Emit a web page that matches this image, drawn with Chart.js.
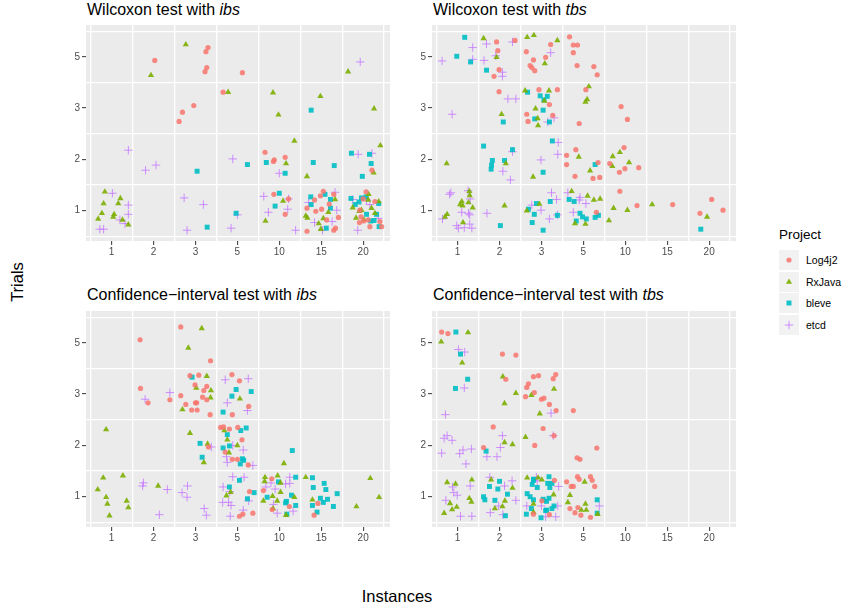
<!DOCTYPE html>
<html>
<head>
<meta charset="utf-8">
<script src="https://cdn.jsdelivr.net/npm/chart.js@4.4.0/dist/chart.umd.min.js"></script>
<style>
    body { margin: 0; background: #fff; font-family: "Liberation Sans", Arial, sans-serif; }
    #page { position: relative; width: 843px; height: 609px; overflow: hidden; }
    .panel { position: absolute; }
    .title { position: absolute; font-size: 16px; line-height: 1; color: #000; white-space: nowrap; }
    .axisTitle { position: absolute; font-size: 16.5px; line-height: 1; color: #000; white-space: nowrap; }
    #legendTitle { position: absolute; left: 779px; top: 228px; font-size: 13.5px; line-height: 1; }
    .key { position: absolute; left: 779px; width: 20px; height: 20px; background: #f2f2f2; }
    .keyLabel { position: absolute; left: 806px; font-size: 10.5px; line-height: 20px; }
</style>
</head>
<body>
<div id="page">
    <div class="title" style="left:87px;top:1.5px">Wilcoxon test with <i>ibs</i></div>
    <div class="title" style="left:433px;top:1.5px">Wilcoxon test with <i>tbs</i></div>
    <div class="title" style="left:87px;top:286.5px">Confidence−interval test with <i>ibs</i></div>
    <div class="title" style="left:433px;top:286.5px">Confidence−interval test with <i>tbs</i></div>

    <div class="panel" style="left:56px;top:17px"><canvas id="wilcoxonIbs" width="342" height="244"></canvas></div>
    <div class="panel" style="left:402px;top:17px"><canvas id="wilcoxonTbs" width="342" height="244"></canvas></div>
    <div class="panel" style="left:56px;top:303px"><canvas id="ciIbs" width="342" height="244"></canvas></div>
    <div class="panel" style="left:402px;top:303px"><canvas id="ciTbs" width="342" height="244"></canvas></div>

    <div class="axisTitle" style="left:17px;top:282px;transform:translate(-50%,-50%) rotate(-90deg)">Trials</div>
    <div class="axisTitle" style="left:397px;top:588px;transform:translateX(-50%)">Instances</div>

    <div id="legendTitle">Project</div>
    <div id="legend"></div>
</div>

<script>
// axis categories (points are jittered around their category index)
const instanceLabels = ['1', '2', '3', '5', '10', '15', '20'];
const trialLabels = ['1', '2', '3', '5'];
const projects = ['Log4j2', 'RxJava', 'bleve', 'etcd'];

// [instance index, trials index]
const wilcoxonIbsLog4j2 = [[2.03,3.93],[3.30,4.18],[3.25,4.10],[3.27,3.79],[3.23,3.71],[4.12,3.69],[3.66,3.31],[2.96,3.05],[2.69,2.92],[2.61,2.74],[4.66,2.14],[4.86,1.96],[4.88,1.99],[5.14,2.04],[4.87,1.32],[5.14,0.93],[5.22,1.23],[5.66,0.60],[5.66,1.05],[5.84,1.21],[5.87,0.99],[6.01,1.03],[6.05,1.38],[5.98,1.29],[6.19,1.13],[6.30,1.32],[6.41,0.87],[6.34,0.66],[6.30,0.62],[6.13,0.82],[7.07,1.37],[7.00,1.23],[6.95,0.88],[6.91,0.77],[7.01,0.80],[7.12,0.82],[7.16,0.69],[7.21,1.79],[7.28,1.18],[7.40,0.79],[7.44,0.69],[6.92,1.01]];
const wilcoxonIbsRxJava = [[2.77,4.24],[1.94,3.64],[3.78,3.31],[4.85,3.30],[4.98,2.87],[5.98,3.23],[6.64,3.71],[7.26,2.99],[5.36,2.36],[5.16,1.92],[5.66,1.67],[7.41,2.27],[7.25,1.74],[5.09,1.19],[4.67,0.80],[0.84,1.37],[0.81,1.14],[0.68,0.84],[0.77,0.95],[1.06,0.93],[1.04,0.88],[1.16,1.14],[1.21,1.24],[1.26,0.82],[1.40,0.73],[5.63,0.90],[5.67,0.86],[5.94,0.75],[5.99,0.64],[6.17,0.97],[6.33,1.22],[6.05,0.85],[6.75,1.06],[6.83,0.86],[6.91,0.99],[6.96,1.01],[7.13,1.32],[7.12,1.21],[7.20,1.05],[7.28,0.95],[7.37,1.18],[7.02,0.82]];
const wilcoxonIbsBleve = [[3.04,1.77],[3.28,0.68],[3.97,0.95],[4.24,1.90],[4.69,1.94],[5.14,1.73],[4.90,1.09],[5.00,1.34],[5.76,2.96],[5.81,1.94],[6.31,1.88],[5.75,1.27],[5.76,1.12],[6.09,1.32],[6.22,1.22],[6.22,1.05],[6.12,0.66],[6.72,2.12],[7.15,2.10],[7.19,1.92],[6.98,1.67],[6.71,1.24],[6.81,1.12],[6.90,1.17],[6.96,1.25],[7.07,1.27],[7.08,0.93],[7.18,0.80],[7.26,0.81],[7.32,0.93],[7.37,1.14],[7.38,0.69]];
const wilcoxonIbsEtcd = [[1.40,2.18],[1.81,1.79],[2.06,1.89],[1.02,1.34],[1.40,1.11],[1.40,0.93],[1.20,0.82],[1.32,0.75],[0.72,0.64],[0.81,0.64],[2.73,1.25],[3.19,1.12],[2.80,0.62],[3.89,2.01],[3.85,0.66],[4.00,0.92],[4.63,1.28],[4.74,0.97],[5.00,1.73],[5.22,1.23],[5.20,1.03],[5.39,0.62],[5.70,1.16],[5.84,0.77],[6.03,0.62],[6.26,0.79],[6.33,1.36],[6.37,1.01],[6.93,3.90],[6.88,2.10],[7.21,2.12],[6.75,1.22],[6.87,0.62],[7.16,1.12],[7.36,0.85],[7.08,1.21]];

const wilcoxonTbsLog4j2 = [[1.93,4.29],[1.96,4.12],[1.99,3.75],[1.87,3.62],[2.37,4.32],[1.99,3.32],[2.64,4.10],[2.81,3.94],[2.73,3.83],[2.77,3.79],[2.84,3.73],[3.10,3.99],[3.22,4.24],[2.94,3.36],[3.38,3.36],[3.19,3.07],[2.65,2.88],[2.68,2.74],[3.27,2.86],[3.67,4.39],[3.76,4.23],[3.86,4.23],[3.76,4.08],[3.85,3.83],[4.25,3.81],[4.33,3.65],[4.06,3.36],[3.90,2.70],[4.90,3.03],[5.05,2.78],[3.60,2.08],[3.60,1.90],[3.82,2.19],[3.80,1.67],[4.35,1.94],[4.23,1.63],[4.39,1.65],[4.63,1.92],[4.86,1.75],[4.97,2.23],[4.99,1.82],[5.32,1.84],[4.87,1.38],[4.31,0.97],[5.28,1.10],[6.13,1.12],[6.78,0.95],[7.06,1.22],[7.33,1.01]];
const wilcoxonTbsRxJava = [[0.74,1.92],[0.70,0.88],[0.75,0.93],[1.10,1.18],[1.12,1.10],[1.06,1.12],[1.13,0.77],[1.28,1.38],[1.29,1.30],[1.26,1.16],[1.36,1.06],[1.62,4.36],[1.93,3.99],[2.05,2.88],[2.15,1.92],[2.12,1.10],[2.66,4.38],[2.82,4.42],[3.38,4.32],[3.08,3.87],[2.61,3.34],[3.18,3.34],[3.07,3.14],[2.86,2.99],[2.91,2.80],[2.92,2.66],[2.80,1.66],[2.65,1.00],[2.95,1.13],[3.89,2.05],[4.13,3.42],[4.09,3.17],[4.05,3.12],[4.16,1.78],[3.72,1.38],[4.10,1.29],[4.25,1.21],[4.40,1.23],[3.80,0.75],[4.05,0.74],[4.70,2.06],[4.87,2.14],[5.09,1.94],[4.69,1.87],[4.72,1.05],[4.61,0.81],[5.05,1.01],[5.64,1.12],[6.95,0.88]];
const wilcoxonTbsBleve = [[1.17,4.38],[0.98,4.01],[1.31,3.90],[1.69,3.74],[2.67,3.31],[2.97,3.24],[3.06,3.16],[3.14,3.23],[3.04,2.96],[2.84,2.79],[3.19,2.73],[2.09,2.73],[1.62,2.26],[1.83,1.98],[1.81,1.89],[1.80,1.81],[2.12,1.98],[2.31,2.19],[3.26,2.36],[3.04,1.75],[4.28,1.90],[2.02,0.71],[2.69,1.03],[2.78,0.77],[2.83,0.93],[2.88,1.14],[3.04,0.62],[3.21,1.18],[3.38,0.91],[3.66,1.22],[3.78,1.18],[3.83,0.80],[3.92,0.95],[3.98,0.88],[4.07,0.84],[4.28,0.87],[4.36,0.91],[6.80,0.64]];
const wilcoxonTbsEtcd = [[0.63,3.92],[1.36,4.18],[1.36,3.95],[1.63,3.93],[1.69,4.25],[1.91,4.02],[2.07,3.70],[2.07,3.62],[2.31,4.29],[3.22,4.08],[2.20,3.18],[2.39,3.18],[0.87,2.88],[3.15,2.73],[3.30,2.81],[2.31,2.15],[2.08,1.77],[2.26,1.60],[2.99,1.99],[3.40,2.33],[3.39,2.10],[0.81,1.32],[0.84,1.35],[0.64,0.84],[1.25,1.39],[1.30,1.23],[1.26,0.95],[1.29,0.92],[1.10,0.97],[0.98,0.71],[1.02,0.66],[1.16,0.67],[1.29,0.74],[1.34,0.66],[1.70,0.95],[2.77,1.11],[2.99,1.01],[3.19,0.84],[3.24,1.35],[3.36,1.22],[3.38,0.92],[3.63,1.35],[3.76,0.97],[3.90,1.21],[4.06,1.14],[3.92,1.26]];

const ciIbsLog4j2 = [[1.68,4.06],[2.65,4.31],[3.36,3.65],[1.69,3.11],[1.87,2.83],[2.39,2.89],[2.65,2.97],[2.77,2.80],[2.91,2.69],[3.04,2.69],[2.87,3.36],[3.08,3.37],[2.99,3.18],[3.27,3.15],[3.20,3.07],[3.00,2.83],[3.03,2.83],[3.17,2.94],[3.27,2.89],[3.35,2.60],[3.87,3.38],[4.05,3.26],[4.27,2.76],[3.88,2.60],[3.60,2.35],[3.67,2.36],[3.81,2.32],[4.01,2.35],[4.11,2.11],[3.71,1.87],[3.88,1.73],[4.00,1.73],[4.26,1.62],[4.29,1.10],[4.37,0.68],[4.13,0.66],[4.05,0.62],[3.31,1.97],[4.82,1.35],[4.83,0.75],[4.62,1.12],[5.24,0.81],[5.83,0.64],[5.92,0.87]];
const ciIbsRxJava = [[3.15,4.28],[2.83,3.90],[3.27,3.35],[3.02,3.12],[3.37,3.07],[3.36,2.93],[2.69,2.70],[0.87,2.31],[2.87,2.24],[3.29,2.03],[3.20,1.67],[3.69,2.29],[3.76,2.11],[4.00,2.00],[3.80,1.86],[4.06,2.91],[5.11,1.65],[0.80,1.37],[0.67,1.14],[0.87,0.99],[0.90,0.86],[0.95,0.63],[1.27,1.41],[1.36,0.92],[1.40,0.79],[2.11,1.21],[3.74,1.02],[3.84,1.09],[4.66,1.38],[4.65,1.30],[4.62,0.92],[4.84,1.01],[4.96,1.41],[5.03,1.27],[5.03,1.09],[4.95,0.92],[4.85,0.77],[5.16,0.64],[5.36,0.99],[5.63,1.38],[5.79,0.94],[6.84,0.81],[7.17,1.36],[7.38,0.99]];
const ciIbsBleve = [[2.92,3.33],[3.97,3.09],[3.87,2.96],[4.33,3.05],[3.66,2.65],[3.76,2.21],[4.21,2.34],[4.08,2.29],[3.11,2.04],[3.16,1.77],[3.66,1.95],[3.81,1.99],[4.12,1.74],[4.15,1.71],[4.07,1.64],[5.31,1.90],[3.81,1.19],[4.05,1.32],[4.40,1.08],[4.24,0.96],[4.98,1.29],[4.71,0.99],[5.17,0.91],[5.15,0.88],[5.18,0.66],[5.29,1.03],[5.39,1.38],[5.39,0.83],[5.79,1.37],[5.81,1.18],[5.79,0.83],[6.07,1.26],[6.11,1.14],[5.98,0.97],[6.05,0.89],[6.15,0.95],[5.90,0.70],[6.38,1.06],[6.29,0.81]];
const ciIbsEtcd = [[1.80,2.90],[2.39,3.03],[1.76,1.27],[1.74,1.21],[2.33,1.14],[2.14,0.65],[2.68,1.08],[2.81,1.21],[2.80,0.99],[3.21,0.77],[3.26,0.64],[3.71,3.28],[4.26,3.30],[3.76,2.83],[4.24,2.68],[3.38,1.97],[3.89,2.00],[4.14,1.91],[3.74,1.78],[3.76,1.67],[4.37,1.61],[3.66,1.19],[3.89,1.39],[4.16,1.38],[3.82,1.10],[3.65,0.89],[3.79,0.89],[3.85,0.83],[3.83,0.62],[4.14,0.74],[4.27,0.92],[4.68,1.19],[4.80,1.27],[4.90,1.15],[4.95,0.68],[5.15,1.25],[5.25,1.38],[5.25,1.26],[5.33,0.72],[4.86,0.85]];

const ciTbsLog4j2 = [[0.62,4.21],[0.77,4.18],[2.07,3.78],[2.39,3.76],[2.15,3.29],[2.65,3.13],[2.69,3.20],[2.81,3.34],[2.93,3.36],[3.34,3.38],[3.28,3.30],[2.83,3.03],[2.62,2.95],[3.00,2.90],[3.06,2.92],[3.19,2.80],[3.35,2.68],[3.76,2.68],[1.85,2.36],[3.04,2.33],[3.30,2.19],[2.84,2.00],[1.62,1.96],[3.85,1.76],[3.92,1.73],[4.32,1.95],[3.31,1.32],[3.60,1.29],[3.71,1.20],[3.76,1.20],[3.86,1.39],[3.90,1.34],[3.68,0.77],[3.80,0.69],[3.87,0.79],[3.94,0.64],[4.17,1.39],[4.21,1.32],[4.27,1.20],[4.17,0.60],[3.01,0.92],[2.81,0.66],[3.19,0.65]];
const ciTbsRxJava = [[0.61,4.02],[1.25,4.20],[1.11,3.61],[2.08,3.34],[3.30,3.10],[2.39,3.02],[2.76,2.98],[2.12,2.82],[2.96,2.62],[2.62,2.16],[2.12,2.06],[2.31,2.02],[0.75,1.28],[0.95,1.25],[1.34,1.33],[0.82,0.87],[0.68,0.68],[0.87,0.75],[0.98,0.80],[1.28,0.97],[1.33,0.90],[1.80,1.33],[2.31,1.17],[2.13,0.92],[2.07,0.81],[1.89,0.77],[2.66,1.37],[2.92,1.37],[2.81,0.86],[2.81,0.70],[3.29,1.04],[3.68,1.03],[3.63,0.89],[4.03,1.29],[4.05,0.86],[3.95,0.74],[4.07,0.74],[4.34,0.66],[3.01,1.33]];
const ciTbsBleve = [[0.96,4.21],[1.07,3.78],[1.24,3.29],[0.95,3.11],[1.68,1.89],[1.62,1.00],[1.65,0.94],[1.76,1.20],[2.00,1.30],[1.96,1.15],[1.89,0.93],[2.19,1.05],[2.14,0.63],[2.66,1.06],[2.81,1.32],[2.78,1.24],[2.73,1.00],[2.90,1.18],[2.81,0.94],[2.76,0.77],[2.64,0.66],[2.99,0.59],[3.04,0.95],[3.12,0.91],[3.12,0.74],[3.18,1.39],[3.15,1.26],[3.20,1.18],[3.25,1.26],[3.18,0.97],[3.25,0.77],[3.30,0.82],[3.10,0.73],[4.33,0.94],[4.33,0.68],[2.81,1.34]];
const ciTbsEtcd = [[1.02,3.87],[1.17,3.82],[1.16,3.12],[0.71,2.60],[0.75,2.19],[0.68,2.14],[0.87,2.10],[0.62,1.85],[1.05,1.84],[1.13,1.91],[1.33,1.93],[1.20,1.64],[2.07,2.19],[2.02,1.96],[1.70,1.78],[1.94,1.78],[3.28,2.19],[3.23,2.63],[0.88,1.19],[0.91,1.08],[0.99,1.03],[0.72,0.93],[1.30,1.21],[1.07,0.62],[1.34,0.62],[1.77,1.38],[1.78,0.69],[1.98,0.82],[2.12,1.21],[2.08,0.65],[2.30,1.31],[2.39,0.93],[2.65,0.82],[2.90,1.31],[2.88,1.38],[3.00,0.82],[3.10,0.61],[3.34,0.61],[3.41,1.20],[3.39,0.82],[4.38,0.82]];

const colors = ['rgba(248,118,109,0.85)', 'rgba(124,174,0,0.9)', 'rgba(0,191,196,0.9)', 'rgba(199,124,255,0.85)'];
const pointStyles = ['circle', 'triangle', 'rect', 'cross'];
const pointSizes = [2.6, 3.6, 3.5, 4.2];
const fontFamily = '"Liberation Sans", Arial, sans-serif';

const panelBg = {
    id: 'panelBg',
    beforeDraw: function (chart) {
        const a = chart.chartArea;
        const ctx = chart.ctx;
        ctx.save();
        ctx.fillStyle = '#ebebeb';
        ctx.fillRect(a.left, a.top, a.right - a.left, a.bottom - a.top);
        ctx.restore();
    }
};

// grid lines sit between categories, tick marks on them
function categoryTicks(count) {
    let ticks = [];
    for (let i = 0; i <= count; i++) {
        ticks.push({ value: i + 0.5 });
        if (i < count) ticks.push({ value: i + 1 });
    }
    return ticks;
}

function axisOptions(labels, min, max, isX) {
    return {
        type: 'linear',
        min: min,
        max: max,
        afterBuildTicks: function (scale) { scale.ticks = categoryTicks(labels.length); },
        afterFit: function (scale) {
            if (isX) scale.height = 20; else scale.width = 30;
        },
        ticks: {
            autoSkip: false,
            maxRotation: 0,
            minRotation: 0,
            padding: isX ? 1 : 2,
            color: '#4d4d4d',
            font: { size: 10, family: fontFamily },
            callback: function (value) {
                return Number.isInteger(value) ? labels[value - 1] : '';
            }
        },
        grid: {
            color: function (c) { return Number.isInteger(c.tick.value) ? 'rgba(0,0,0,0)' : '#ffffff'; },
            lineWidth: 1.3,
            tickColor: function (c) { return Number.isInteger(c.tick.value) ? '#333333' : 'rgba(0,0,0,0)'; },
            tickLength: 4,
            tickWidth: 1
        },
        border: { display: false }
    };
}

function makePanel(id, series) {
    const datasets = projects.map(function (name, i) {
        return {
            label: name,
            data: series[i].map(function (p) { return { x: p[0], y: p[1] }; }),
            pointStyle: pointStyles[i],
            pointRadius: pointSizes[i],
            backgroundColor: colors[i],
            borderColor: colors[i],
            borderWidth: i === 3 ? 1 : 0
        };
    });
    return new Chart(document.getElementById(id), {
        type: 'scatter',
        data: { datasets: datasets },
        plugins: [panelBg],
        options: {
            responsive: false,
            animation: false,
            events: [],
            layout: { padding: { top: 8, right: 8, left: 0, bottom: 0 } },
            plugins: { legend: { display: false }, tooltip: { enabled: false } },
            scales: {
                x: axisOptions(instanceLabels, 0.39, 7.64, true),
                y: axisOptions(trialLabels, 0.41, 4.62, false)
            }
        }
    });
}

makePanel('wilcoxonIbs', [wilcoxonIbsLog4j2, wilcoxonIbsRxJava, wilcoxonIbsBleve, wilcoxonIbsEtcd]);
makePanel('wilcoxonTbs', [wilcoxonTbsLog4j2, wilcoxonTbsRxJava, wilcoxonTbsBleve, wilcoxonTbsEtcd]);
makePanel('ciIbs', [ciIbsLog4j2, ciIbsRxJava, ciIbsBleve, ciIbsEtcd]);
makePanel('ciTbs', [ciTbsLog4j2, ciTbsRxJava, ciTbsBleve, ciTbsEtcd]);

// legend
const glyphs = [
    c => '<circle cx="10" cy="10" r="2.6" fill="' + c + '"/>',
    c => '<polygon points="10,6.4 13.1,11.8 6.9,11.8" fill="' + c + '"/>',
    c => '<rect x="7.5" y="7.5" width="5" height="5" fill="' + c + '"/>',
    c => '<path d="M5.8 10H14.2M10 5.8V14.2" stroke="' + c + '" stroke-width="1"/>'
];
let legendHtml = '';
projects.forEach(function (name, i) {
    const top = 250 + i * 21.5;
    legendHtml += '<div class="key" style="top:' + top + 'px"><svg width="20" height="20">' + glyphs[i](colors[i]) + '</svg></div>';
    legendHtml += '<div class="keyLabel" style="top:' + top + 'px">' + name + '</div>';
});
document.getElementById('legend').innerHTML = legendHtml;
</script>
</body>
</html>
